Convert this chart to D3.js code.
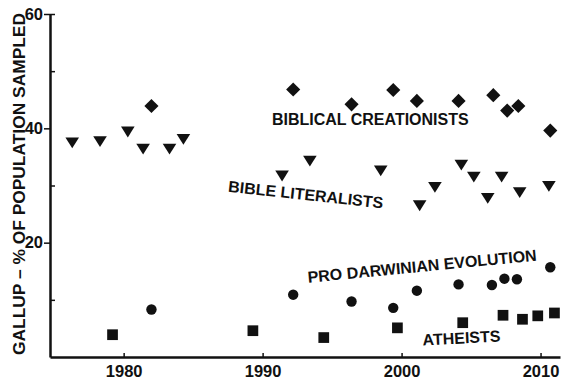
<!DOCTYPE html>
<html>
<head>
<meta charset="utf-8">
<script src="https://cdn.jsdelivr.net/npm/d3@7"></script>
<style>
  body { margin: 0; background: #fff; }
  text { font-family: "Liberation Sans", Arial, Helvetica, sans-serif; fill: #111; }
</style>
</head>
<body>
<div id="chart"></div>
<script>
// Gallup poll series (year, percent)
const creationistYears = [1982, 1992.2, 1996.4, 1999.4, 2001.1, 2004.1, 2006.6, 2007.6, 2008.4, 2010.7];
const creationistValues = [43.9, 46.8, 44.2, 46.7, 44.8, 44.8, 45.8, 43.1, 43.9, 39.6];

const literalistYears = [1976.3, 1978.3, 1980.3, 1981.4, 1983.3, 1984.3, 1991.4, 1993.4, 1998.5, 2001.3, 2002.4, 2004.3, 2005.2, 2006.2, 2007.2, 2008.5, 2010.6];
const literalistValues = [37.6, 37.8, 39.5, 36.5, 36.5, 38.2, 31.8, 34.4, 32.7, 26.6, 29.8, 33.7, 31.6, 27.9, 31.6, 28.9, 30.0];

const darwinYears = [1982, 1992.2, 1996.4, 1999.4, 2001.1, 2004.1, 2006.5, 2007.4, 2008.3, 2010.7];
const darwinValues = [8.3, 10.9, 9.7, 8.6, 11.6, 12.7, 12.6, 13.7, 13.6, 15.7];

const atheistYears = [1979.2, 1989.3, 1994.4, 1999.7, 2004.4, 2007.3, 2008.7, 2009.8, 2011.0];
const atheistValues = [3.9, 4.6, 3.4, 5.1, 6.0, 7.3, 6.6, 7.2, 7.7];

const xTicks = [1980, 1990, 2000, 2010];
const yTicks = [20, 40, 60];
const yMinorTicks = [10, 30, 50];
const seriesLabels = ["BIBLICAL CREATIONISTS", "BIBLE LITERALISTS", "PRO DARWINIAN EVOLUTION", "ATHEISTS"];
const yTitle = "GALLUP \u2013 % OF POPULATION SAMPLED";

const width = 576, height = 386;
const ink = "#111";

const svg = d3.select("#chart")
    .append("svg")
    .attr("width", width)
    .attr("height", height);

const x = d3.scaleLinear().domain([1974.7, 2011.4]).range([50, 560]);
const y = d3.scaleLinear().domain([0, 60]).range([357, 14]);

// axes
const xAxis = svg.append("g")
    .attr("transform", `translate(0,${y(0)})`)
    .call(d3.axisBottom(x).tickValues(xTicks).tickFormat(d3.format("d")).tickSizeInner(-4).tickSizeOuter(0).tickPadding(8));
xAxis.select(".domain").attr("stroke", ink).attr("stroke-width", 2.5);
xAxis.selectAll(".tick line").attr("stroke", ink).attr("stroke-width", 1.5);
xAxis.selectAll("text")
    .attr("font-size", 16.5)
    .attr("font-weight", "bold")
    .attr("fill", ink)
    .attr("font-family", "Liberation Sans, Arial, sans-serif");

const yAxis = svg.append("g")
    .attr("transform", `translate(${x.range()[0]},0)`)
    .call(d3.axisLeft(y).tickValues(yTicks).tickSizeInner(6).tickSizeOuter(0).tickPadding(1));
yAxis.select(".domain").attr("stroke", ink).attr("stroke-width", 2.5);
yAxis.selectAll(".tick line").attr("stroke", ink).attr("stroke-width", 1.5);
yAxis.selectAll("text")
    .attr("font-size", 16.5)
    .attr("font-weight", "bold")
    .attr("fill", ink)
    .attr("font-family", "Liberation Sans, Arial, sans-serif");

// small inside ticks at 10, 30, 50
svg.append("g")
    .attr("transform", `translate(${x.range()[0]},0)`)
    .call(d3.axisRight(y).tickValues(yMinorTicks.concat([60])).tickSize(5).tickFormat(""))
    .call(g => g.select(".domain").remove())
    .selectAll("line").attr("stroke", ink).attr("stroke-width", 1.5);

// y title
svg.append("text")
    .attr("transform", "rotate(-90)")
    .attr("x", -184)
    .attr("y", 25)
    .attr("text-anchor", "middle")
    .attr("font-size", 17)
    .attr("font-weight", "bold")
    .attr("textLength", 342)
    .attr("lengthAdjust", "spacingAndGlyphs")
    .text(yTitle);

const zip = (xs, vs) => xs.map((d, i) => ({ year: d, value: vs[i] }));

// diamonds
svg.append("g").selectAll("path")
    .data(zip(creationistYears, creationistValues))
    .join("path")
    .attr("d", d3.symbol(d3.symbolSquare, 100))
    .attr("transform", d => `translate(${x(d.year)},${y(d.value)}) rotate(45)`)
    .attr("fill", ink);

// downward triangles
const tri = "M-6.8,-4.6L6.8,-4.6L0,6.2Z";
svg.append("g").selectAll("path")
    .data(zip(literalistYears, literalistValues))
    .join("path")
    .attr("d", tri)
    .attr("transform", d => `translate(${x(d.year)},${y(d.value)})`)
    .attr("fill", ink);

// circles
svg.append("g").selectAll("circle")
    .data(zip(darwinYears, darwinValues))
    .join("circle")
    .attr("cx", d => x(d.year))
    .attr("cy", d => y(d.value))
    .attr("r", 5.2)
    .attr("fill", ink);

// squares
svg.append("g").selectAll("path")
    .data(zip(atheistYears, atheistValues))
    .join("path")
    .attr("d", d3.symbol(d3.symbolSquare, 115))
    .attr("transform", d => `translate(${x(d.year)},${y(d.value)})`)
    .attr("fill", ink);

// series labels written on the plot
const labelSpots = [
    { year: 1990.67, value: 40.6, angle: 0 },
    { year: 1987.5, value: 28.9, angle: 6.1 },
    { year: 1993.28, value: 13.0, angle: -5.5 },
    { year: 2001.53, value: 2.0, angle: -3 }
];
svg.append("g").selectAll("text")
    .data(seriesLabels)
    .join("text")
    .attr("transform", (d, i) => `translate(${x(labelSpots[i].year)},${y(labelSpots[i].value)}) rotate(${labelSpots[i].angle})`)
    .attr("font-size", 16)
    .attr("font-weight", "bold")
    .text(d => d);
</script>
</body>
</html>
